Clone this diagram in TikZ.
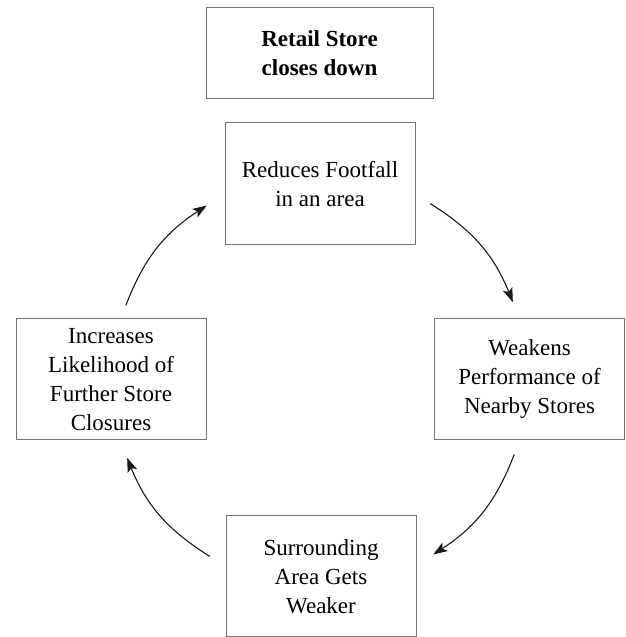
\documentclass[tikz,border=0pt]{standalone}
\usepackage{fontspec}
\setmainfont{Liberation Serif}
\usetikzlibrary{arrows.meta}

\begin{document}
\begin{tikzpicture}[>={Stealth[length=14pt, width=10pt, inset=3pt]}, x=1pt, y=1pt,
  stage/.style={draw=black!55, line width=1pt, align=center, minimum width=190, minimum height=121, font=\fontsize{23}{29}\selectfont},
  cyc/.style={->, line width=1.1pt, black!90}]

\useasboundingbox (0, 0) rectangle (625, 637);

\node[stage, minimum width=227, minimum height=91, font=\fontsize{23}{29}\selectfont\bfseries] (closes) at (319.5, 583.5) {Retail Store\\closes down}; %start
\node[stage, minimum height=122] (footfall) at (320, 453) {Reduces Footfall\\in an area};
\node[stage] (weakens) at (529.5, 257.5) {Weakens\\Performance of\\Nearby Stores};
\node[stage] (surround) at (321, 60.5) {Surrounding\\Area Gets\\Weaker};
\node[stage] (likely) at (111, 257.5) {Increases\\Likelihood of\\Further Store\\Closures};

% loop round the middle
\coordinate (hub) at (320, 257);
\foreach \a/\b [count=\i] in {159/123, 58/22, -21/-57, -122/-158}{
  \coordinate (s\i) at ([shift={(\a:208)}]hub);
  \coordinate (e\i) at ([shift={(\b:208)}]hub);
  \draw[cyc] (s\i) to[bend left=18] (e\i);
}

\end{tikzpicture}
\end{document}
